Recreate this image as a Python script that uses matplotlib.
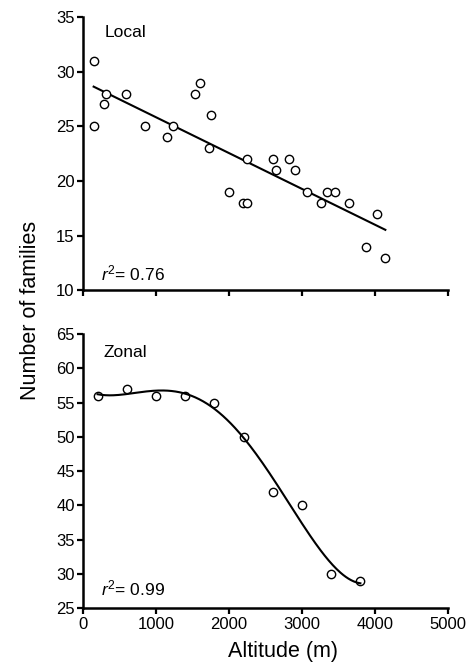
import numpy as np
import matplotlib
matplotlib.use("Agg")
import matplotlib.pyplot as plt

plt.rcParams['font.family'] = ['Liberation Sans', 'DejaVu Sans']
plt.rcParams['mathtext.fontset'] = 'custom'
plt.rcParams['mathtext.rm'] = 'Liberation Sans'
plt.rcParams['mathtext.it'] = 'Liberation Sans:italic'

# Local: altitude (m) vs number of families
local_alt = [146, 155, 292, 315, 584, 849, 1146, 1237, 1534, 1598, 1749, 1726, 2000,
             2192, 2251, 2251, 2598, 2648, 2817, 2900, 3068, 3260, 3338, 3452,
             3648, 3881, 4023, 4142]
local_fam = [31, 25, 27, 28, 28, 25, 24, 25, 28, 29, 26, 23, 19,
             18, 18, 22, 22, 21, 22, 21, 19, 18, 19, 19,
             18, 14, 17, 13]

# Zonal
zonal_alt = [200, 600, 1000, 1400, 1800, 2200, 2600, 3000, 3400, 3800]
zonal_fam = [56, 57, 56, 56, 55, 50, 42, 40, 30, 29]

xticks = [0, 1000, 2000, 3000, 4000, 5000]

fig = plt.figure(figsize=(4.72, 6.68), dpi=100)
ax1 = fig.add_axes([0.1758, 0.5654, 0.7733, 0.4092])
ax2 = fig.add_axes([0.1758, 0.0894, 0.7733, 0.4106])


def style(ax, ylim, yticks):
    ax.set_xlim(0, 5000)
    ax.set_ylim(*ylim)
    ax.set_xticks(xticks)
    ax.set_yticks(yticks)
    for s in ['top', 'right']:
        ax.spines[s].set_visible(False)
    for s in ['left', 'bottom']:
        ax.spines[s].set_linewidth(1.8)
    ax.tick_params(width=1.6, length=4, labelsize=12, pad=2)


# top panel
coef = np.polyfit(local_alt, local_fam, 1)
xs = np.array([min(local_alt), max(local_alt)])
ax1.plot(xs, np.polyval(coef, xs), color='black', lw=1.5)
ax1.plot(local_alt, local_fam, 'o', mfc='white', mec='black', ms=6, mew=1.0, clip_on=False)
style(ax1, (10, 35), [10, 15, 20, 25, 30, 35])
ax1.set_xticklabels([])
ax1.text(0.058, 0.945, 'Local', transform=ax1.transAxes, fontsize=12.5, va='center')
ax1.text(0.05, 0.062, '$r^2$= 0.76', transform=ax1.transAxes, fontsize=12.5, va='center')

# bottom panel
coef2 = np.polyfit(zonal_alt, zonal_fam, 4)
xs2 = np.linspace(min(zonal_alt), max(zonal_alt), 200)
ax2.plot(xs2, np.polyval(coef2, xs2), color='black', lw=1.5)
ax2.plot(zonal_alt, zonal_fam, 'o', mfc='none', mec='black', ms=6, mew=1.0, clip_on=False)
style(ax2, (25, 65), [25, 30, 35, 40, 45, 50, 55, 60, 65])
ax2.text(0.055, 0.934, 'Zonal', transform=ax2.transAxes, fontsize=12.5, va='center')
ax2.text(0.05, 0.073, '$r^2$= 0.99', transform=ax2.transAxes, fontsize=12.5, va='center')

fig.text(0.6, 0.024, 'Altitude (m)', fontsize=15.5, ha='center', va='center')
fig.text(0.064, 0.536, 'Number of families', fontsize=15.5, ha='center', va='center',
         rotation=90)

fig.savefig('out.png', dpi=100)
